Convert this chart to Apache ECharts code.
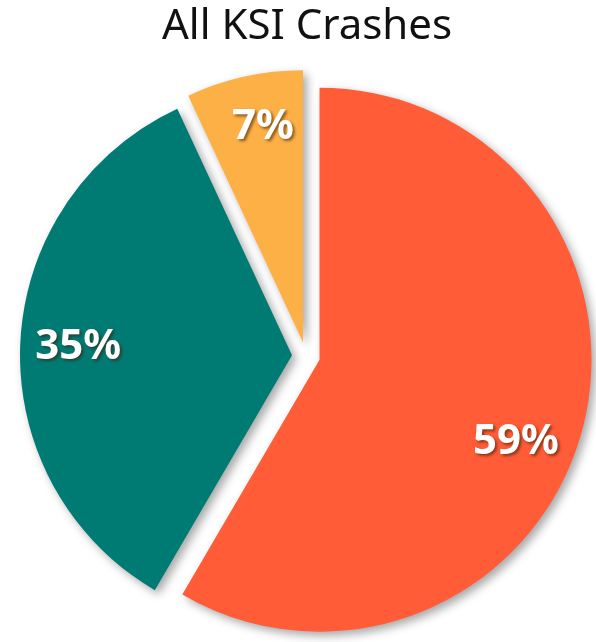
<!DOCTYPE html>
<html>
<head>
<meta charset="utf-8">
<script src="https://cdn.jsdelivr.net/npm/echarts@6/dist/echarts.min.js"></script>
<style>
  html, body { margin: 0; padding: 0; background: #fff; }
  #chart { width: 596px; height: 642px; }
</style>
</head>
<body>
<div id="chart"></div>
<script>
// Share of KSI crashes by group
const categories = ['Group A', 'Group B', 'Group C'];
const shares = [59, 35, 7];
const sliceColors = ['#FF5C37', '#007B73', '#FDB046'];

const TITLE_FONT = '"Noto Sans", Lato, sans-serif';
const LABEL_FONT = '"Noto Sans", "Open Sans", sans-serif';
const R = 272;
const CENTER = [306, 356];
const OFFSET = 14;

const sliceData = categories.map((name, i) => ({
  name,
  value: shares[i],
  selected: true,
  itemStyle: { color: sliceColors[i] }
}));

const labelData = categories.map((name, i) => ({
  name,
  value: shares[i],
  selected: true
}));

// the large slice's label sits a little lower along its arc
const labelShift = [[-14, 25], [4, 2], [7, -2]];

const chart = echarts.init(document.getElementById('chart'), null, { renderer: 'canvas' });
chart.setOption({
  animation: false,
  title: {
    text: 'All KSI Crashes',
    left: 157,
    top: 1,
    textStyle: { fontFamily: TITLE_FONT, fontSize: 42, fontWeight: 'normal', color: '#111' }
  },
  series: [
    {
      type: 'pie',
      center: CENTER,
      radius: [0, R],
      startAngle: 90,
      clockwise: true,
      selectedMode: 'multiple',
      selectedOffset: OFFSET,
      silent: true,
      label: { show: false },
      labelLine: { show: false },
      itemStyle: {
        borderWidth: 0,
        shadowBlur: 10,
        shadowOffsetX: 4,
        shadowOffsetY: 4,
        shadowColor: 'rgba(0,0,0,0.35)'
      },
      data: sliceData
    },
    {
      // transparent ring that positions the percentage labels near the outer edge
      type: 'pie',
      center: CENTER,
      radius: [Math.round(R * 0.58), R],
      startAngle: 90,
      clockwise: true,
      selectedMode: 'multiple',
      selectedOffset: OFFSET,
      silent: true,
      itemStyle: { color: 'rgba(0,0,0,0)' },
      label: {
        show: true,
        position: 'inside',
        formatter: p => p.value + '%',
        fontFamily: LABEL_FONT,
        fontSize: 42,
        fontWeight: 'bold',
        color: '#fff',
        textShadowColor: 'rgba(60,30,0,0.6)',
        textShadowBlur: 3,
        textShadowOffsetX: 2,
        textShadowOffsetY: 2
      },
      labelLayout: p => ({ dx: labelShift[p.dataIndex][0], dy: labelShift[p.dataIndex][1] }),
      labelLine: { show: false },
      data: labelData
    }
  ]
});
</script>
</body>
</html>
